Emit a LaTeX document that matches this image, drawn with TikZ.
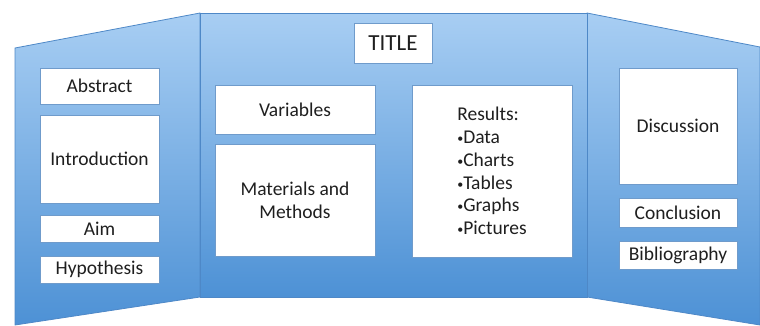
\documentclass[tikz,border=0pt]{standalone}
\usepackage{fontspec}
\setmainfont{Carlito}
\definecolor{boardtop}{HTML}{A8CEF3}
\definecolor{boardbot}{HTML}{4D91D5}
\definecolor{boardline}{HTML}{4E88C7}
\definecolor{cardline}{HTML}{6F9BCB}
\newcommand{\itembul}{{\fontsize{12}{12}\selectfont\raisebox{1pt}{•}}}
\tikzset{
  panel/.style={top color=boardtop,bottom color=boardbot,draw=boardline,line width=0.8pt},
  card/.style={draw=cardline,fill=white,line width=0.6pt,inner sep=2pt,
    minimum width=#1,font=\fontsize{19.5}{22.8}\selectfont,align=center,text=black!88},
  card/.default=119pt
}
\begin{document}
\begin{tikzpicture}[x=1pt,y=-1pt]
  \useasboundingbox (0,0) rectangle (760,325);

  % the three boards
  \shade[panel] (15,48) -- (200,13) -- (200,297) -- (15,325) -- cycle;
  \shade[panel] (587,13) -- (760,47) -- (760,325) -- (587,297) -- cycle;
  \shade[panel] (200,13) rectangle (587,297);

  % left board
  \node[card,minimum height=36pt] (abstract) at (99.5,86) {Abstract};
  \node[card,minimum height=88pt] (intro) at (99.5,159) {Introduction};
  \node[card,minimum height=27pt] (aim) at (99.5,228.5) {Aim};
  \node[card,minimum height=27pt] (hypo) at (99.5,269.5) {Hypothesis};

  % middle board
  \node[card=78pt,minimum height=40pt,font=\fontsize{23}{28}\selectfont] (title) at (393,43) {TITLE};
  \node[card=160pt,minimum height=49pt] (vars) at (295,109.5) {Variables};
  \node[card=160pt,minimum height=112pt] (methods) at (295,200) {Materials and\\Methods};
  \node[card=160pt,minimum height=172pt,align=left] (results) at (492,171)
    {Results:\\\itembul Data\\\itembul Charts\\\itembul Tables\\\itembul Graphs\\\itembul Pictures};

  % right board
  \node[card=118pt,minimum height=116pt] (discuss) at (678,126) {Discussion};
  \node[card=118pt,minimum height=29pt] (concl) at (678,212.5) {Conclusion};
  \node[card=118pt,minimum height=28pt] (biblio) at (678,255) {Bibliography};
\end{tikzpicture}
\end{document}
